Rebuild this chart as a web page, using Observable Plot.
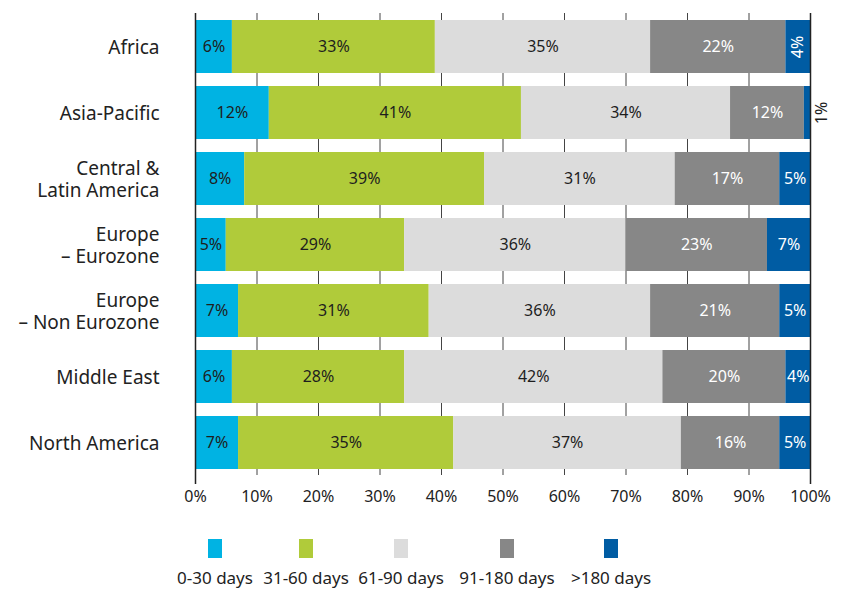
<!DOCTYPE html>
<html>
<head>
<meta charset="utf-8">
<script src="https://cdn.jsdelivr.net/npm/d3@7"></script>
<script src="https://cdn.jsdelivr.net/npm/@observablehq/plot@0.6"></script>
<style>
  body { margin: 0; background: #fff; font-family: "Noto Sans", sans-serif; }
  #wrap { position: relative; width: 843px; height: 592px; }
  #legend { position: absolute; left: 0; top: 515px; width: 843px; height: 77px; }
  .item { position: absolute; top: 0; width: 120px; margin-left: -60px; text-align: center; color: #222; font-size: 17px; }
  .sw { display: block; width: 14px; height: 19px; margin: 24px auto 0 auto; }
  .lab { display: block; margin-top: 10px; line-height: 20px; white-space: nowrap; }
</style>
</head>
<body>
<div id="wrap"><div id="chart"></div><div id="legend"></div></div>
<script>
const regions = ["Africa", "Asia-Pacific", "Central &\nLatin America", "Europe\n– Eurozone", "Europe\n– Non Eurozone", "Middle East", "North America"];
const buckets = ["0-30 days", "31-60 days", "61-90 days", "91-180 days", ">180 days"];
const v0_30   = [6, 12, 8, 5, 7, 6, 7];
const v31_60  = [33, 41, 39, 29, 31, 28, 35];
const v61_90  = [35, 34, 31, 36, 36, 42, 37];
const v91_180 = [22, 12, 17, 23, 21, 20, 16];
const v180    = [4, 1, 5, 7, 5, 4, 5];
const colors  = ["#00b3e3", "#b0cb3a", "#dcdcdc", "#878787", "#005ca3"];
const xTicks  = [0, 10, 20, 30, 40, 50, 60, 70, 80, 90, 100];
const legendCenters = [215, 306, 401, 507, 611];

const series = [v0_30, v31_60, v61_90, v91_180, v180];
const data = [];
regions.forEach((r, i) => {
  buckets.forEach((b, j) => {
    data.push({region: r, bucket: b, bi: j, value: series[j][i]});
  });
});
const isAfr180 = d => d.region === "Africa" && d.bi === 4;
const isAsia180 = d => d.region === "Asia-Pacific" && d.bi === 4;
const darkText = d => d.bi <= 2 && !isAfr180(d) && !isAsia180(d) ? d.value + "%" : null;
const lightText = d => d.bi >= 3 && !isAfr180(d) && !isAsia180(d) ? d.value + "%" : null;

const chart = Plot.plot({
  width: 843,
  height: 515,
  marginLeft: 195,
  marginRight: 33,
  marginTop: 13,
  marginBottom: 40,
  style: {fontFamily: "Noto Sans", fontSize: "16px", color: "#222", background: "#fff"},
  x: {domain: [0, 100], label: null},
  y: {domain: regions, paddingInner: 0.2, paddingOuter: 0.083, label: null},
  color: {domain: buckets, range: colors},
  marks: [
    Plot.gridX(xTicks.slice(1, -1), {stroke: "#444", strokeOpacity: 1, strokeWidth: 1}),
    Plot.barX(data, Plot.stackX({x: "value", y: "region", fill: "bucket"})),
    Plot.ruleX([0, 100], {stroke: "#222", strokeWidth: 1.5, insetBottom: -9}),
    Plot.axisX(xTicks, {tickSize: 0, tickPadding: 15, tickFormat: d => d + "%", fontSize: 16, label: null, fill: "#222"}),
    Plot.axisY({tickSize: 0, tickPadding: 36, fontSize: 19, lineHeight: 1.16, label: null, fill: "#222"}),
    Plot.text(data, Plot.stackX({x: "value", y: "region", z: "bucket", text: darkText, fill: "#1e1e1e", fontSize: 16})),
    Plot.text(data, Plot.stackX({x: "value", y: "region", z: "bucket", text: lightText, fill: "#fff", fontSize: 16})),
    Plot.text(data, Plot.stackX({x: "value", y: "region", z: "bucket", text: d => isAfr180(d) ? d.value + "%" : null, fill: "#fff", fontSize: 16, rotate: -90})),
    Plot.text(data, Plot.stackX2({x: "value", y: "region", z: "bucket", text: d => isAsia180(d) ? d.value + "%" : null, fill: "#1e1e1e", fontSize: 16, rotate: -90, dx: 11}))
  ]
});
document.getElementById("chart").appendChild(chart);

const legend = document.getElementById("legend");
buckets.forEach((b, j) => {
  const it = document.createElement("div");
  it.className = "item";
  it.style.left = legendCenters[j] + "px";
  it.innerHTML = `<span class="sw" style="background:${colors[j]}"></span><span class="lab">${b.replace(">", "&gt;")}</span>`;
  legend.appendChild(it);
});
</script>
</body>
</html>
